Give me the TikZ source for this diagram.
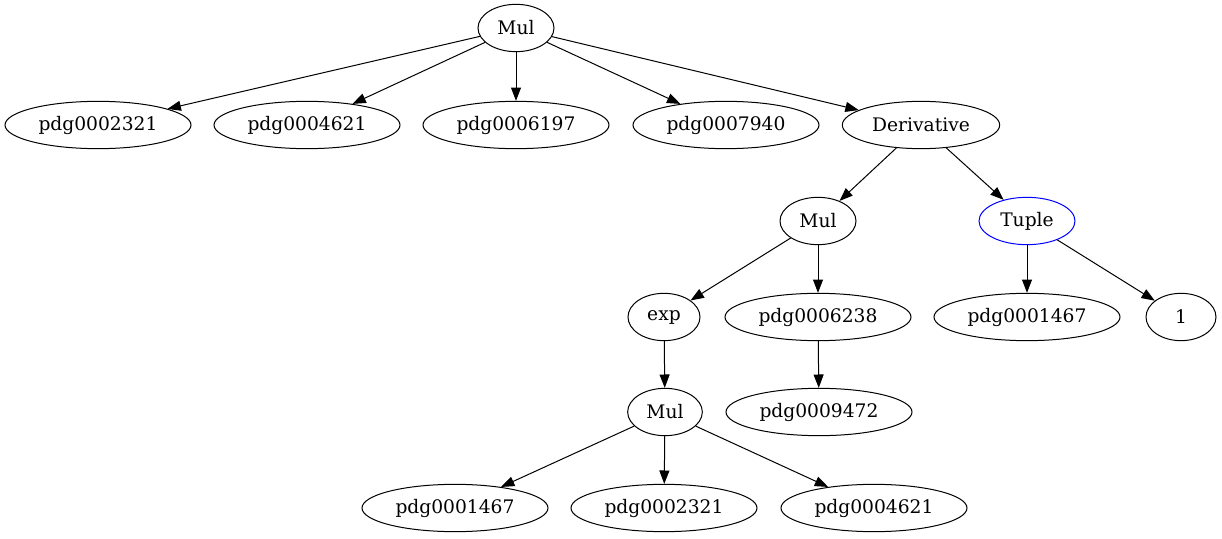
\documentclass[tikz,border=0pt]{standalone}
\usepackage{fontspec}
\setmainfont{DejaVu Serif}
\usepackage{xcolor}
\usetikzlibrary{arrows.meta, shapes.geometric}
\definecolor{tuplec}{RGB}{0,0,255}

\begin{document}
\begin{tikzpicture}[x=0.75pt, y=-0.75pt,
    term/.style={ellipse, draw, line width=0.75pt, inner sep=0pt,
      minimum height=35.5pt, minimum width=#1, font=\fontsize{14}{16}\selectfont},
    term/.default=139.5pt,
    edge/.style={-{Triangle[length=10pt, width=7.5pt]}, line width=0.75pt}]
  \useasboundingbox (0,0) rectangle (1222,539);
  % top level
  \node[term=57pt] (mulA) at (516,28) {Mul};
  \node[term] (d2321) at (98,125) {pdg0002321};
  \node[term] (d4621) at (307,125) {pdg0004621};
  \node[term] (d6197) at (516,125) {pdg0006197};
  \node[term] (d7940) at (726,125) {pdg0007940};
  \node[term=118pt] (deriv) at (921,125) {Derivative};
  % derivative branch
  \node[term=57pt] (mulB) at (818,221) {Mul};
  \node[term=72pt, draw=tuplec] (tuple) at (1027,221) {Tuple};
  \node[term=54pt] (expn) at (664,317) {exp};
  \node[term] (d6238) at (818,317) {pdg0006238};
  \node[term] (t1467) at (1027,317) {pdg0001467};
  \node[term=52.5pt] (one) at (1181,317) {1};
  \node[term] (d9472) at (819,412) {pdg0009472};
  \node[term=56pt] (mulC) at (665,412) {Mul};
  \node[term] (c1467) at (455,508) {pdg0001467};
  \node[term] (c2321) at (664,508) {pdg0002321};
  \node[term] (c4621) at (874,508) {pdg0004621};
  % connectors
  \foreach \dst in {d2321, d4621, d6197, d7940, deriv}
    \draw[edge] (mulA) -- (\dst);
  \draw[edge] (deriv) -- (mulB);
  \draw[edge] (deriv) -- (tuple);
  \draw[edge] (mulB) -- (expn);
  \draw[edge] (mulB) -- (d6238);
  \draw[edge] (tuple) -- (t1467);
  \draw[edge] (tuple) -- (one);
  \draw[edge] (d6238) -- (d9472);
  \draw[edge] (expn) -- (mulC);
  \foreach \dst in {c1467, c2321, c4621}
    \draw[edge] (mulC) -- (\dst);
\end{tikzpicture}
\end{document}
